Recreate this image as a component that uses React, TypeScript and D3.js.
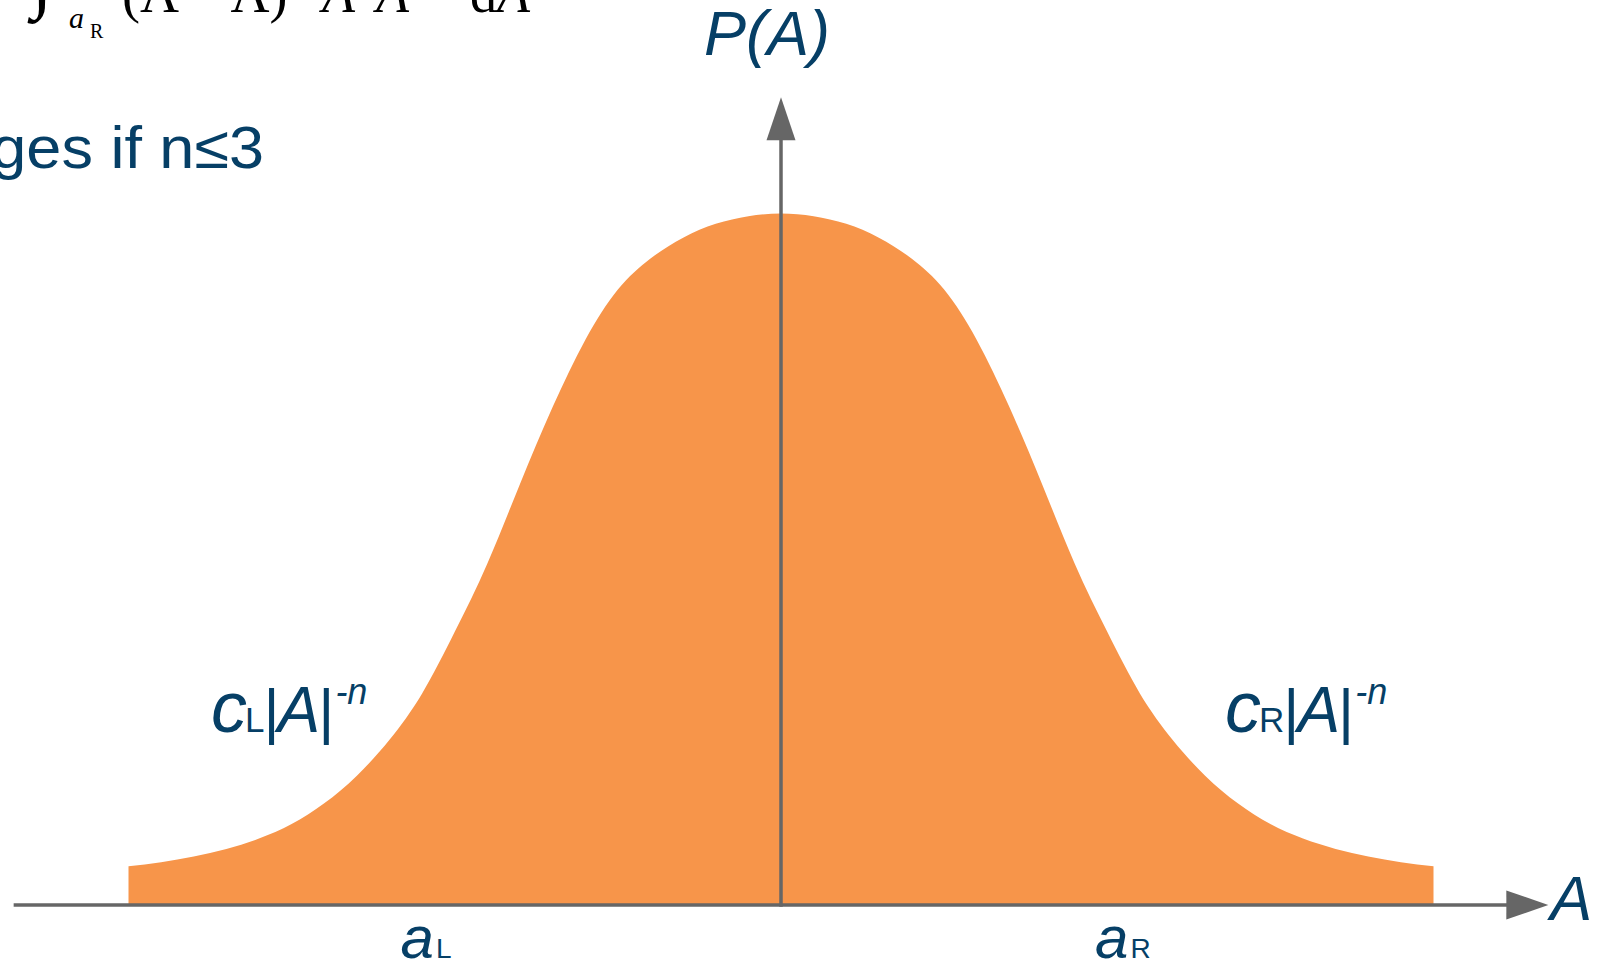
import React from "react";
import * as d3 from "d3";

// Sampled profile of the distribution P(A): a Gaussian-like core with power-law tails
const aValues = [
  -5, -4.75, -4.5, -4.25, -4, -3.75, -3.5, -3.25, -3, -2.75, -2.5, -2.25, -2, -1.75, -1.5, -1.25, -1,
  -0.75, -0.5, -0.25, 0, 0.25, 0.5, 0.75, 1, 1.25, 1.5, 1.75, 2, 2.25, 2.5, 2.75, 3, 3.25, 3.5, 3.75,
  4, 4.25, 4.5, 4.75, 5,
];
const pValues = [
  0.056, 0.062, 0.07, 0.081, 0.096, 0.117, 0.147, 0.187, 0.239, 0.306, 0.395, 0.494, 0.609, 0.72, 0.817,
  0.89, 0.935, 0.965, 0.985, 0.996, 1.0, 0.996, 0.985, 0.965, 0.935, 0.89, 0.817, 0.72, 0.609, 0.494,
  0.395, 0.306, 0.239, 0.187, 0.147, 0.117, 0.096, 0.081, 0.07, 0.062, 0.056,
];

// Axis extents and marked points on the A axis
const axisA = [-5.88, 5.88];
const axisP = [0, 1.168];
const tailPoints = [
  { label: "L", a: -2.72 },
  { label: "R", a: 2.62 },
];

const W = 1601;
const H = 963;
const NAVY = "#063f66";
const GREY = "#666666";
const ORANGE = "#f7954a";
const SANS = "'Liberation Sans', Arial, Helvetica, sans-serif";
const SERIF = "'Liberation Serif', 'Times New Roman', serif";

export default function App() {
  const x = d3.scaleLinear().domain([-5, 5]).range([128.5, 1433.5]);
  const y = d3.scaleLinear().domain([0, 1]).range([905, 213.5]);

  const data = aValues.map((a, i) => ({ a, p: pValues[i] }));
  const area = d3
    .area<{ a: number; p: number }>()
    .x((d) => x(d.a))
    .y0(y(0))
    .y1((d) => y(d.p))
    .curve(d3.curveNatural);

  const x0 = x(0);
  const yBase = y(0);
  const xEnd = x(axisA[1]);
  const yTop = y(axisP[1]);
  const headLen = 42;
  const headHalf = 14.5;

  return (
    <svg
      width={W}
      height={H}
      viewBox={`0 0 ${W} ${H}`}
      style={{ position: "absolute", left: 0, top: 0, background: "#fff" }}
    >
      {/* formula line running off the top edge */}
      <g fill="#000" fontFamily={SERIF}>
        <text x={31} y={3} fontSize={78} fontStyle="italic" fontWeight="bold">∫</text>
        <text x={69} y={28} fontSize={30} fontStyle="italic">a</text>
        <text x={90} y={38} fontSize={20}>R</text>
        <text x={122} y={12} fontSize={54}>(A − A)</text>
        <text x={322} y={12} fontSize={54} fontStyle="italic">A</text>
        <text x={376} y={12} fontSize={54} fontStyle="italic">A</text>
        <text x={470} y={12} fontSize={54}>d<tspan fontStyle="italic">A</tspan></text>
      </g>
      <g transform="translate(264,168) scale(1.05,1)">
        <text x={0} y={0} fontSize={60} fill={NAVY} fontFamily={SANS} textAnchor="end">
          diverges if n≤3
        </text>
      </g>

      {/* distribution */}
      <path d={area(data) ?? ""} fill={ORANGE} />

      {/* axes */}
      <line x1={x(axisA[0])} x2={xEnd - headLen + 1} y1={yBase} y2={yBase} stroke={GREY} strokeWidth={3.5} />
      <path
        d={`M${xEnd},${yBase} L${xEnd - headLen},${yBase - headHalf} L${xEnd - headLen},${yBase + headHalf} Z`}
        fill={GREY}
      />
      <line x1={x0} x2={x0} y1={yBase + 1.75} y2={yTop + headLen} stroke={GREY} strokeWidth={3.5} />
      <path
        d={`M${x0},${yTop} L${x0 - headHalf},${yTop + headLen + 1} L${x0 + headHalf},${yTop + headLen + 1} Z`}
        fill={GREY}
      />

      {/* axis titles */}
      <text x={704} y={55} fontSize={63} fill={NAVY} fontFamily={SANS} fontStyle="italic">
        P(A)
      </text>
      <text x={xEnd + 2} y={920} fontSize={63} fill={NAVY} fontFamily={SANS} fontStyle="italic">
        A
      </text>

      {/* tail boundaries a_L, a_R */}
      {tailPoints.map((t) => (
        <text key={t.label} x={x(t.a)} y={958} fill={NAVY} fontFamily={SANS} textAnchor="middle">
          <tspan fontSize={60} fontStyle="italic">a</tspan>
          <tspan fontSize={28} dx={2}>{t.label}</tspan>
        </text>
      ))}

      {/* power-law tail annotations */}
      {[
        { label: "L", x: 211 },
        { label: "R", x: 1225 },
      ].map((t) => (
        <text key={t.label} x={t.x} y={732} fill={NAVY} fontFamily={SANS}>
          <tspan fontSize={72} fontStyle="italic">c</tspan>
          <tspan fontSize={35} dx={-2}>{t.label}</tspan>
          <tspan fontSize={62} dx={-1}>|</tspan>
          <tspan fontSize={64} fontStyle="italic" dx={-2}>A</tspan>
          <tspan fontSize={62} dx={-2}>|</tspan>
          <tspan fontSize={36} fontStyle="italic" dy={-28} dx={1}>-n</tspan>
        </text>
      ))}
    </svg>
  );
}
